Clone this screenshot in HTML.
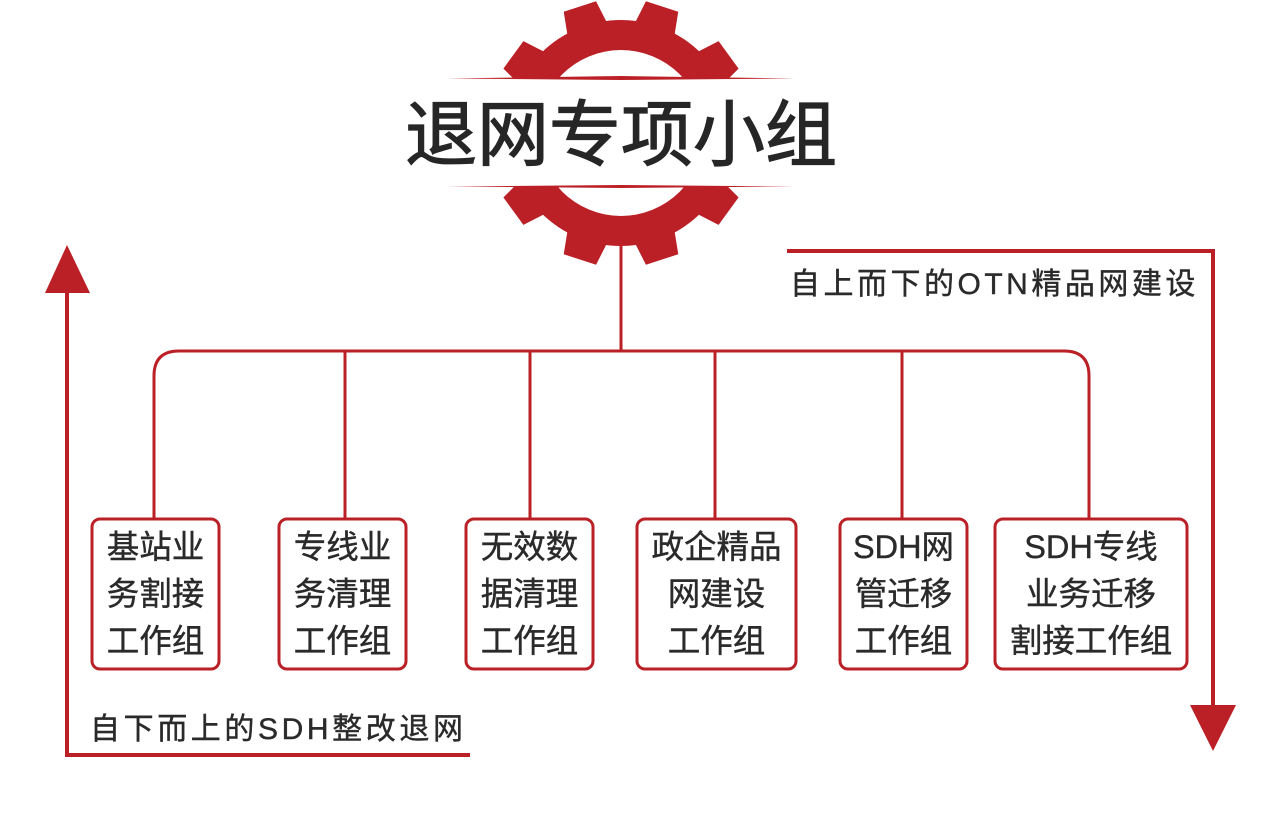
<!DOCTYPE html>
<html><head><meta charset="utf-8"><style>
html,body{margin:0;padding:0;background:#fff;}
svg{display:block;}
text{font-family:"Liberation Sans","Noto Sans CJK SC",sans-serif;fill:#2a2a2a;}
</style></head><body>
<svg width="1280" height="822" viewBox="0 0 1280 822" xmlns="http://www.w3.org/2000/svg">
<defs><polygon id="t" points="599,32 604,0 638,0 643,32"/></defs>
<g fill="#bb2026">
  <circle cx="621" cy="133" r="113"/>
  <use href="#t" transform="rotate(18 621 133)"/>
  <use href="#t" transform="rotate(-18 621 133)"/>
  <use href="#t" transform="rotate(54 621 133)"/>
  <use href="#t" transform="rotate(-54 621 133)"/>
  <use href="#t" transform="rotate(126 621 133)"/>
  <use href="#t" transform="rotate(-126 621 133)"/>
  <use href="#t" transform="rotate(162 621 133)"/>
  <use href="#t" transform="rotate(-162 621 133)"/>
</g>
<circle cx="621" cy="133" r="83" fill="#fff"/>
<rect x="430" y="79" width="380" height="107" fill="#fff"/>
<polygon points="447,78.5 621,76 795,78.5 621,80" fill="#bb2026"/>
<polygon points="447,186.5 621,185 795,186.5 621,188" fill="#bb2026"/>
<text x="621" y="160" font-size="72" text-anchor="middle" style="fill:#262626;stroke:#262626;stroke-width:1.2">退网专项小组</text>

<g stroke="#bb2026" stroke-width="3" fill="none">
  <line x1="621" y1="240" x2="621" y2="351"/>
  <path d="M154,518 V376 Q154,351 179,351 H1064 Q1089,351 1089,376 V518"/>
  <line x1="345" y1="351" x2="345" y2="518"/>
  <line x1="530" y1="351" x2="530" y2="518"/>
  <line x1="715" y1="351" x2="715" y2="518"/>
  <line x1="902" y1="351" x2="902" y2="518"/>
  <rect x="92" y="519" width="127" height="150" rx="8"/>
  <rect x="279" y="519" width="127" height="150" rx="8"/>
  <rect x="466" y="519" width="127" height="150" rx="8"/>
  <rect x="637" y="519" width="159" height="150" rx="8"/>
  <rect x="840" y="519" width="127" height="150" rx="8"/>
  <rect x="995" y="519" width="192" height="150" rx="8"/>
</g>
<g stroke="#bb2026" stroke-width="4" fill="none">
  <polyline points="67,285 67,755 470,755"/>
  <polyline points="787,251 1213,251 1213,710"/>
</g>
<polygon points="67,245 45,293 90,293" fill="#bb2026"/>
<polygon points="1213,751 1190,705 1236,705" fill="#bb2026"/>

<g font-size="32.5" text-anchor="middle" style="stroke:#2a2a2a;stroke-width:0.4">
  <text x="155.5" y="558">基站业</text><text x="155.5" y="605">务割接</text><text x="155.5" y="652">工作组</text>
  <text x="342.5" y="558">专线业</text><text x="342.5" y="605">务清理</text><text x="342.5" y="652">工作组</text>
  <text x="529.5" y="558">无效数</text><text x="529.5" y="605">据清理</text><text x="529.5" y="652">工作组</text>
  <text x="716.5" y="558">政企精品</text><text x="716.5" y="605">网建设</text><text x="716.5" y="652">工作组</text>
  <text x="903.5" y="558">SDH网</text><text x="903.5" y="605">管迁移</text><text x="903.5" y="652">工作组</text>
  <text x="1091" y="558">SDH专线</text><text x="1091" y="605">业务迁移</text><text x="1091" y="652">割接工作组</text>
</g>
<text x="790" y="294" font-size="30" letter-spacing="3.5" style="stroke:#2a2a2a;stroke-width:0.4">自上而下的OTN精品网建设</text>
<text x="90" y="739" font-size="30" letter-spacing="3.6" style="stroke:#2a2a2a;stroke-width:0.4">自下而上的SDH整改退网</text>
</svg>
</body></html>
